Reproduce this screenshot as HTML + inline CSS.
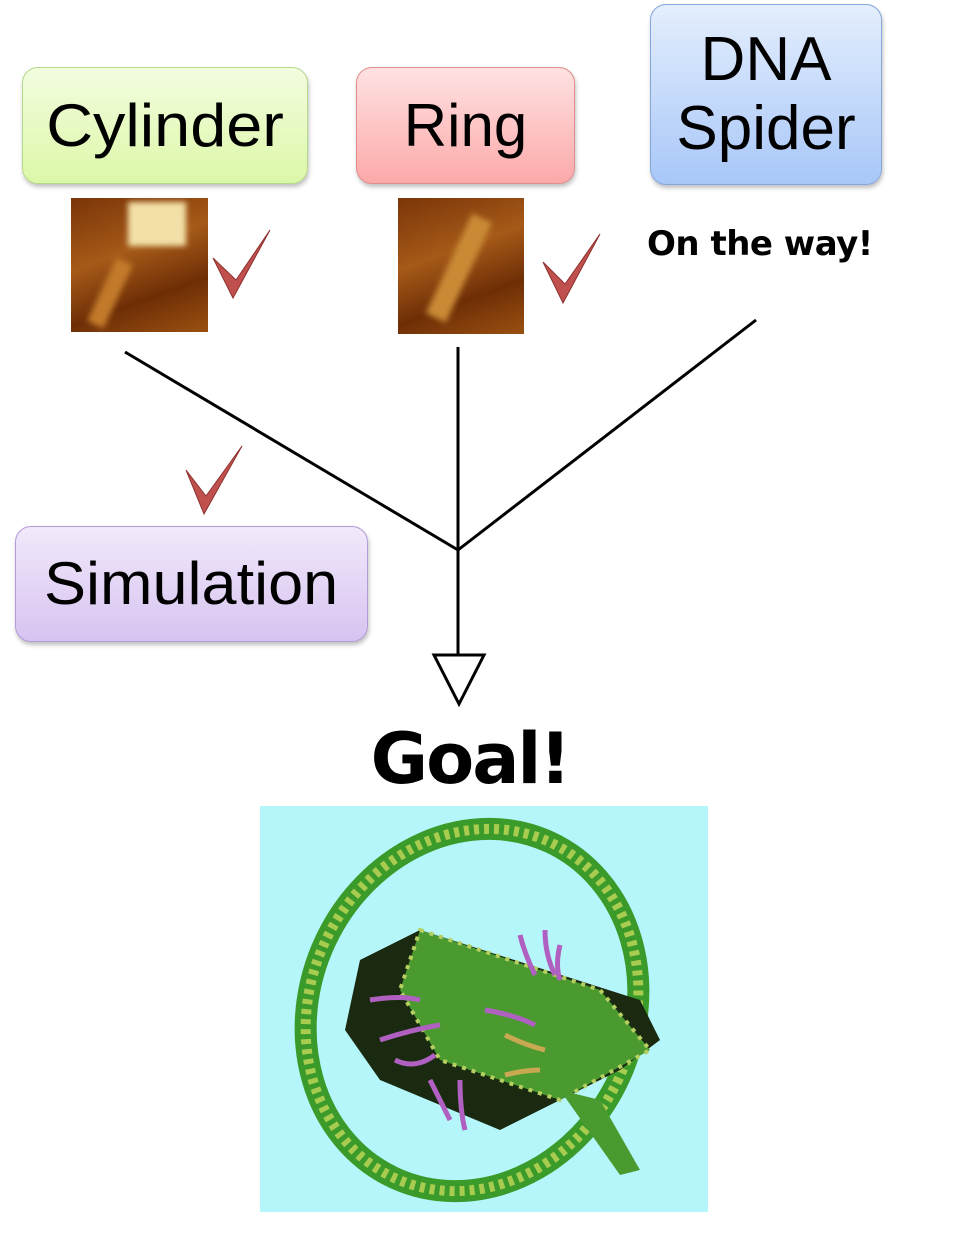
<!DOCTYPE html>
<html><head><meta charset="utf-8"><style>
body{margin:0;background:#fff;width:980px;height:1236px;position:relative;overflow:hidden;font-family:"Liberation Sans","DejaVu Sans",sans-serif}
.box{position:absolute;border-radius:16px;display:flex;align-items:center;justify-content:center;text-align:center;color:#000;font-size:60px;line-height:1.1;box-shadow:1px 3px 4px rgba(0,0,0,.25)}
.afm{position:absolute;background:linear-gradient(160deg,#7a3408,#a65a18 40%,#6e2e06 70%,#9a5010)}
</style></head><body>
<div class="box" style="left:22px;top:67px;width:284px;height:115px;background:linear-gradient(#f3fde0,#dcf7a8);border:1px solid #b5d98a"><span style="display:inline-block;transform:scaleX(1.08)">Cylinder</span></div>
<div class="box" style="left:356px;top:67px;width:217px;height:115px;background:linear-gradient(#ffe2e2,#fca9a9);border:1px solid #df8d8d">Ring</div>
<div class="box" style="left:650px;top:4px;width:230px;height:179px;background:linear-gradient(#e4eefd,#a8c7f8);border:1px solid #86a7da;font-size:62px">DNA<br>Spider</div>
<div class="box" style="left:15px;top:526px;width:351px;height:114px;background:linear-gradient(#f1e9fb,#d7c3f1);border:1px solid #b39bd6"><span style="display:inline-block;transform:scaleX(1.05)">Simulation</span></div>

<div class="afm" style="left:71px;top:198px;width:137px;height:134px"><div style="position:absolute;left:57px;top:4px;width:58px;height:44px;background:#f2e0a8;filter:blur(3px)"></div><div style="position:absolute;left:30px;top:60px;width:18px;height:70px;background:#c27a2a;transform:rotate(25deg);filter:blur(3px)"></div></div>
<div class="afm" style="left:398px;top:198px;width:126px;height:136px"><div style="position:absolute;left:50px;top:15px;width:22px;height:110px;background:#c98a35;transform:rotate(25deg);filter:blur(3px)"></div></div>

<svg width="980" height="1236" style="position:absolute;left:0;top:0">
<g fill="#c0504d" stroke="#8c3230" stroke-width="1">
<path d="M213,258 L233,298 L270,230 L236,280 Z"/>
<path d="M543,262 L563,303 L600,234 L565,284 Z"/>
<path d="M186,470 L204,514 L242,446 L206,496 Z"/>
</g>
<g stroke="#000" stroke-width="3" fill="none">
<line x1="125" y1="352" x2="458" y2="550"/>
<line x1="756" y1="320" x2="458" y2="550"/>
<line x1="458" y1="347" x2="458" y2="655"/>
<polygon points="434,655 484,655 459,704" fill="#fff"/>
</g>
<rect x="260" y="806" width="448" height="406" fill="#b5f6fa"/>
<g fill="none">
<ellipse cx="472" cy="1010" rx="162" ry="185" transform="rotate(25 472 1010)" stroke="#3a9a2a" stroke-width="22"/>
<ellipse cx="472" cy="1010" rx="162" ry="185" transform="rotate(25 472 1010)" stroke="#a8cc50" stroke-width="10" stroke-dasharray="5 5"/>
</g>
<polygon points="360,960 420,930 640,1000 660,1040 620,1070 500,1130 380,1080 345,1030" fill="#1a2a10"/>
<polygon points="420,930 600,990 650,1050 560,1100 440,1060 400,990" fill="#4a9a30"/>
<polygon points="420,930 600,990 650,1050 560,1100 440,1060 400,990" fill="none" stroke="#b5d060" stroke-width="4" stroke-dasharray="4 6"/>
<polygon points="560,1090 600,1100 640,1170 620,1175" fill="#4a9a30"/>
<g stroke="#b060c0" stroke-width="5" fill="none">
<path d="M520,935 q5,20 15,40"/><path d="M545,930 q0,25 10,45"/><path d="M560,945 q-5,20 0,35"/>
<path d="M380,1040 q30,-10 60,-15"/><path d="M395,1060 q20,10 40,-5"/><path d="M430,1080 q10,20 20,40"/><path d="M460,1080 q0,30 5,50"/>
<path d="M370,1000 q30,-5 50,0"/><path d="M485,1010 q30,5 50,15"/>
</g>
<g stroke="#c8a850" stroke-width="5" fill="none"><path d="M505,1075 q20,-5 35,-5"/><path d="M505,1035 q20,10 40,15"/></g>
</svg>
<div style="position:absolute;left:647px;top:224px;font-size:34px;font-weight:bold;font-family:'DejaVu Sans',sans-serif;letter-spacing:-0.5px">On the way!</div>
<div style="position:absolute;left:360px;top:718px;width:220px;text-align:center;font-size:70px;font-weight:bold;font-family:'DejaVu Sans',sans-serif;letter-spacing:-2px">Goal!</div>
</body></html>
